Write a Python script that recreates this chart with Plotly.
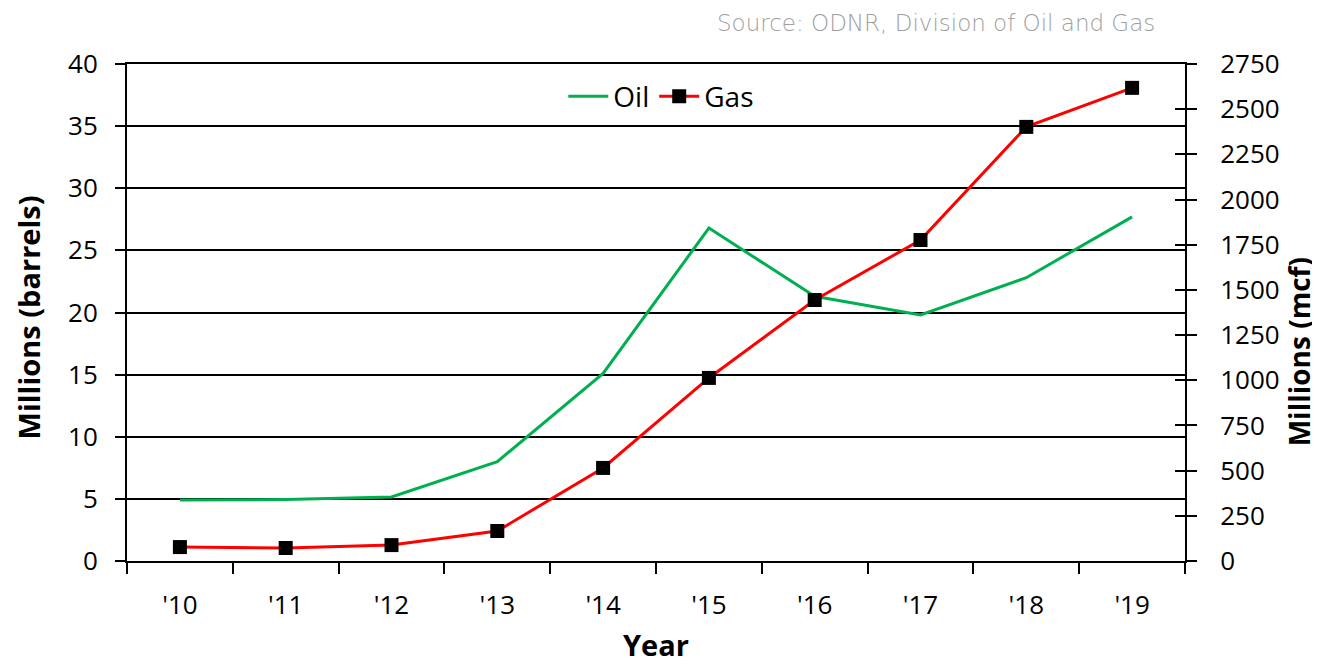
import plotly.graph_objects as go

# ======================================================================================================
# Data
# ======================================================================================================

years = ["'10", "'11", "'12", "'13", "'14", "'15", "'16", "'17", "'18", "'19"]
oil = [4.9, 4.95, 5.15, 8.0, 15.1, 26.8, 21.3, 19.8, 22.8, 27.7]      # millions of barrels
gas = [77, 72, 88, 166, 515, 1013, 1444, 1776, 2402, 2618]            # millions of mcf

FONT = "Open Sans"
TICK_SIZE = 26

# ======================================================================================================
# Plot
# ======================================================================================================

fig = go.Figure()

fig.add_trace(go.Scatter(x=years, y=oil, name="Oil", mode="lines",
                         line=dict(color="#00b050", width=3), yaxis="y"))
fig.add_trace(go.Scatter(x=years, y=gas, name="Gas", mode="lines+markers",
                         line=dict(color="#ff0000", width=3),
                         marker=dict(symbol="square", size=14, color="black"),
                         yaxis="y2"))

# invisible traces so the inner tick axes get drawn
fig.add_trace(go.Scatter(x=years, y=oil, yaxis="y3", showlegend=False,
                         mode="lines", line=dict(width=0), hoverinfo="skip"))
fig.add_trace(go.Scatter(x=years, y=gas, yaxis="y4", showlegend=False,
                         mode="lines", line=dict(width=0), hoverinfo="skip"))

axis_font = dict(family=FONT, size=TICK_SIZE, color="black")
title_font = dict(family=FONT, size=29, color="black", weight="bold")

# the page body has an 8px margin, so the figure is a little smaller than the window
fig.update_layout(
    width=1312, height=657,
    margin=dict(l=119, r=135, t=56, b=104, autoexpand=False),
    plot_bgcolor="white", paper_bgcolor="white",
    font=dict(family=FONT, color="black"),
    showlegend=True,
    legend=dict(orientation="h", x=0.505, xanchor="center", y=0.985, yanchor="top",
                font=dict(family=FONT, size=28, color="black"),
                bgcolor="rgba(0,0,0,0)", itemwidth=40, tracegroupgap=0),
    xaxis=dict(type="category", range=[-0.5, 9.5], tickson="boundaries",
               ticks="outside", ticklen=11, tickwidth=2, tickcolor="black",
               showline=True, mirror=True, linecolor="black", linewidth=2,
               showgrid=False, tickfont=axis_font, ticklabelstandoff=20,
               automargin=False),
    yaxis=dict(range=[0, 40], dtick=5, ticks="outside", ticklen=10, tickwidth=2,
               tickcolor="black", showline=True, linecolor="black", linewidth=2,
               showgrid=True, gridcolor="black", gridwidth=2, zeroline=False,
               tickfont=axis_font, ticklabelstandoff=12, automargin=False),
    yaxis2=dict(range=[0, 2750], dtick=250, overlaying="y", side="right",
                ticks="outside", ticklen=10, tickwidth=2, tickcolor="black",
                showline=True, linecolor="black", linewidth=2, showgrid=False,
                zeroline=False, tickfont=axis_font, ticklabelstandoff=18,
                automargin=False),
    yaxis3=dict(range=[0, 40], dtick=5, overlaying="y", side="left",
                ticks="inside", ticklen=10, tickwidth=2, tickcolor="black",
                showticklabels=False, showgrid=False, zeroline=False, showline=False),
    yaxis4=dict(range=[0, 2750], dtick=250, overlaying="y", side="right",
                ticks="inside", ticklen=10, tickwidth=2, tickcolor="black",
                showticklabels=False, showgrid=False, zeroline=False, showline=False),
)

# axis titles as annotations so they can sit where the original puts them
fig.add_annotation(text="Millions (barrels)", xref="paper", yref="paper",
                   x=-0.0936, y=0.49, textangle=-90, showarrow=False,
                   xanchor="center", yanchor="middle", font=title_font)
fig.add_annotation(text="Millions (mcf)", xref="paper", yref="paper",
                   x=1.1078, y=0.42, textangle=-90, showarrow=False,
                   xanchor="center", yanchor="middle",
                   font=dict(family=FONT, size=28, color="black", weight="bold"))
fig.add_annotation(text="Year", xref="paper", yref="paper",
                   x=0.5, y=-0.168, showarrow=False,
                   xanchor="center", yanchor="middle", font=title_font)

fig.add_annotation(text="Source: ODNR, Division of Oil and Gas",
                   xref="paper", yref="paper", x=0.9735, y=1.0, yshift=41,
                   xanchor="right", yanchor="middle", showarrow=False,
                   font=dict(family="DejaVu Sans", size=23, color="#a0a0a0", weight=300))

fig.write_html("out.html")
